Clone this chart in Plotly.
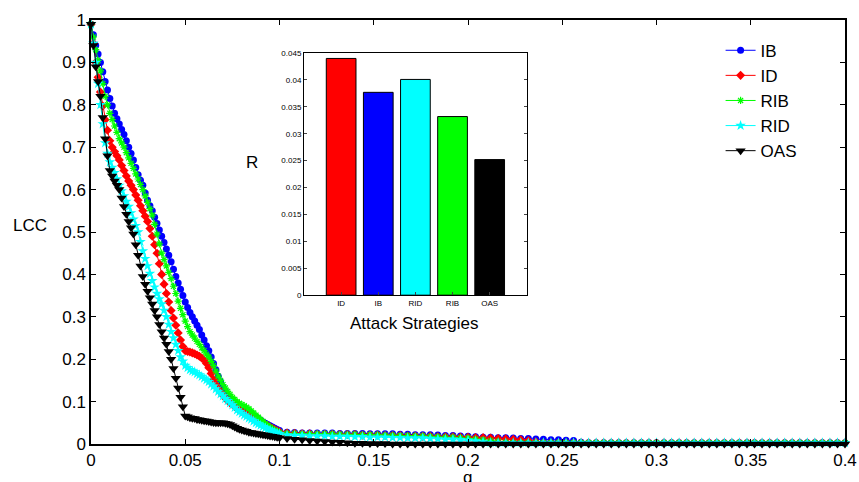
import plotly.graph_objects as go

# ---------------- data ----------------
# sampling grid of the fraction of removed nodes q
q_steep = [round(i * 0.00125, 5) for i in range(81)]        # 0 .. 0.1
q_tail = [round(0.104 + i * 0.004, 4) for i in range(75)]    # 0.104 .. 0.4
q = q_steep + q_tail

ib_steep = [0.99, 0.965, 0.94, 0.92, 0.90, 0.878, 0.855, 0.835, 0.815, 0.797,
            0.78, 0.767, 0.755, 0.742, 0.73, 0.715, 0.70, 0.685, 0.67, 0.652,
            0.635, 0.622, 0.61, 0.592, 0.575, 0.562, 0.55, 0.535, 0.52, 0.505,
            0.49, 0.475, 0.46, 0.445, 0.43, 0.412, 0.395, 0.38, 0.365, 0.35,
            0.335, 0.322, 0.31, 0.30, 0.29, 0.28, 0.27, 0.257, 0.245, 0.232,
            0.22, 0.205, 0.19, 0.175, 0.16, 0.147, 0.135, 0.125, 0.115, 0.106,
            0.098, 0.091, 0.085, 0.081, 0.077, 0.074, 0.072, 0.070, 0.068, 0.066,
            0.063, 0.060, 0.056, 0.052, 0.049, 0.046, 0.043, 0.040, 0.037, 0.034,
            0.032]
ib_tail = [0.028, 0.027, 0.026, 0.026, 0.026, 0.026, 0.026, 0.025, 0.025, 0.025,
           0.025, 0.024, 0.024, 0.024, 0.024, 0.023, 0.023, 0.022, 0.022, 0.022,
           0.021, 0.020, 0.020, 0.019, 0.018, 0.017, 0.016, 0.016, 0.015, 0.015,
           0.014, 0.013, 0.013, 0.012, 0.011, 0.010, 0.010, 0.009, 0.008, 0.004,
           0.003, 0.003, 0.003, 0.003, 0.003, 0.003, 0.003, 0.003, 0.003, 0.003,
           0.003, 0.003, 0.003, 0.003, 0.003, 0.003, 0.003, 0.003, 0.003, 0.003,
           0.003, 0.003, 0.003, 0.003, 0.003, 0.003, 0.003, 0.003, 0.003, 0.003,
           0.003, 0.003, 0.003, 0.003, 0.003]

id_steep = [0.99, 0.945, 0.90, 0.865, 0.83, 0.797, 0.765, 0.74, 0.715, 0.70,
            0.69, 0.68, 0.67, 0.657, 0.645, 0.632, 0.62, 0.61, 0.60, 0.587,
            0.575, 0.562, 0.55, 0.537, 0.525, 0.508, 0.49, 0.47, 0.45, 0.425,
            0.40, 0.377, 0.355, 0.335, 0.315, 0.297, 0.28, 0.262, 0.245, 0.23,
            0.22, 0.218, 0.217, 0.215, 0.213, 0.21, 0.207, 0.203, 0.198, 0.19,
            0.18, 0.166, 0.152, 0.14, 0.13, 0.122, 0.115, 0.108, 0.102, 0.097,
            0.093, 0.089, 0.085, 0.081, 0.078, 0.075, 0.072, 0.069, 0.066, 0.063,
            0.060, 0.057, 0.053, 0.050, 0.046, 0.043, 0.040, 0.037, 0.034, 0.031,
            0.029]
id_tail = [0.026, 0.025, 0.024, 0.024, 0.023, 0.023, 0.023, 0.022, 0.022, 0.022,
           0.021, 0.021, 0.021, 0.020, 0.020, 0.020, 0.019, 0.019, 0.018, 0.018,
           0.017, 0.017, 0.017, 0.016, 0.016, 0.015, 0.015, 0.014, 0.013, 0.012,
           0.011, 0.010, 0.008, 0.005, 0.003, 0.003, 0.003, 0.003, 0.003, 0.003,
           0.003, 0.003, 0.003, 0.003, 0.003, 0.003, 0.003, 0.003, 0.003, 0.003,
           0.003, 0.003, 0.003, 0.003, 0.003, 0.003, 0.003, 0.003, 0.003, 0.003,
           0.003, 0.003, 0.003, 0.003, 0.003, 0.003, 0.003, 0.003, 0.003, 0.003,
           0.003, 0.003, 0.003, 0.003, 0.003]

rib_steep = [0.99, 0.96, 0.93, 0.905, 0.88, 0.85, 0.82, 0.80, 0.78, 0.765,
             0.75, 0.735, 0.72, 0.71, 0.70, 0.687, 0.675, 0.662, 0.65, 0.637,
             0.625, 0.612, 0.60, 0.585, 0.57, 0.555, 0.54, 0.518, 0.495, 0.472,
             0.45, 0.435, 0.42, 0.405, 0.39, 0.372, 0.355, 0.337, 0.32, 0.305,
             0.29, 0.277, 0.265, 0.257, 0.25, 0.242, 0.235, 0.227, 0.22, 0.212,
             0.205, 0.195, 0.185, 0.172, 0.16, 0.15, 0.14, 0.132, 0.124, 0.117,
             0.11, 0.105, 0.10, 0.096, 0.093, 0.090, 0.087, 0.083, 0.078, 0.073,
             0.068, 0.063, 0.058, 0.053, 0.048, 0.044, 0.040, 0.036, 0.033, 0.030,
             0.028]
rib_tail = [0.025, 0.025, 0.024, 0.024, 0.024, 0.024, 0.024, 0.023, 0.023, 0.023,
            0.022, 0.022, 0.022, 0.021, 0.021, 0.020, 0.020, 0.019, 0.019, 0.018,
            0.017, 0.016, 0.016, 0.015, 0.014, 0.012, 0.010, 0.008, 0.006, 0.004,
            0.003, 0.003, 0.003, 0.003, 0.003, 0.003, 0.003, 0.003, 0.003, 0.003,
            0.003, 0.003, 0.003, 0.003, 0.003, 0.003, 0.003, 0.003, 0.003, 0.003,
            0.003, 0.003, 0.003, 0.003, 0.003, 0.003, 0.003, 0.003, 0.003, 0.003,
            0.003, 0.003, 0.003, 0.003, 0.003, 0.003, 0.003, 0.003, 0.003, 0.003,
            0.003, 0.003, 0.003, 0.003, 0.003]

rid_steep = [0.99, 0.945, 0.90, 0.85, 0.80, 0.755, 0.71, 0.685, 0.665, 0.652,
             0.64, 0.625, 0.61, 0.597, 0.585, 0.572, 0.56, 0.545, 0.53, 0.515,
             0.50, 0.477, 0.455, 0.437, 0.42, 0.402, 0.385, 0.37, 0.355, 0.342,
             0.33, 0.315, 0.30, 0.282, 0.265, 0.25, 0.235, 0.22, 0.205, 0.195,
             0.185, 0.18, 0.175, 0.172, 0.17, 0.166, 0.163, 0.159, 0.155, 0.151,
             0.147, 0.141, 0.136, 0.13, 0.124, 0.118, 0.113, 0.107, 0.102, 0.097,
             0.092, 0.086, 0.080, 0.076, 0.072, 0.068, 0.065, 0.061, 0.058, 0.054,
             0.050, 0.047, 0.044, 0.041, 0.038, 0.035, 0.033, 0.030, 0.028, 0.026,
             0.024]
rid_tail = [0.021, 0.020, 0.020, 0.019, 0.019, 0.019, 0.018, 0.018, 0.018, 0.017,
            0.017, 0.016, 0.016, 0.016, 0.015, 0.015, 0.014, 0.014, 0.014, 0.013,
            0.012, 0.011, 0.011, 0.010, 0.009, 0.007, 0.005, 0.003, 0.003, 0.003,
            0.003, 0.003, 0.003, 0.003, 0.003, 0.003, 0.003, 0.003, 0.003, 0.003,
            0.003, 0.003, 0.003, 0.003, 0.003, 0.003, 0.003, 0.003, 0.003, 0.003,
            0.003, 0.003, 0.003, 0.003, 0.003, 0.003, 0.003, 0.003, 0.003, 0.003,
            0.003, 0.003, 0.003, 0.003, 0.003, 0.003, 0.003, 0.003, 0.003, 0.003,
            0.003, 0.003, 0.003, 0.003, 0.003]

oas_steep = [0.99, 0.94, 0.89, 0.855, 0.82, 0.77, 0.72, 0.68, 0.645, 0.632,
             0.62, 0.61, 0.60, 0.58, 0.56, 0.542, 0.525, 0.51, 0.495, 0.47,
             0.445, 0.42, 0.395, 0.377, 0.36, 0.345, 0.33, 0.315, 0.30, 0.282,
             0.265, 0.25, 0.235, 0.218, 0.20, 0.178, 0.155, 0.132, 0.11, 0.088,
             0.066, 0.064, 0.062, 0.061, 0.060, 0.058, 0.057, 0.056, 0.055, 0.054,
             0.053, 0.052, 0.051, 0.050, 0.050, 0.050, 0.050, 0.049, 0.048, 0.046,
             0.043, 0.040, 0.037, 0.035, 0.033, 0.031, 0.030, 0.028, 0.027, 0.026,
             0.025, 0.024, 0.023, 0.022, 0.021, 0.020, 0.019, 0.018, 0.017, 0.016,
             0.015]
oas_tail = [0.013, 0.011, 0.010, 0.008, 0.007, 0.006, 0.005, 0.004, 0.003, 0.002,
            0.002, 0.001, 0.001, 0.001, 0.0, 0.0, 0.0, 0.0, 0.0, 0.0,
            0.0, 0.0, 0.0, 0.0, 0.0, 0.0, 0.0, 0.0, 0.0, 0.0,
            0.0, 0.0, 0.0, 0.0, 0.0, 0.0, 0.0, 0.0, 0.0, 0.0,
            0.0, 0.0, 0.0, 0.0, 0.0, 0.0, 0.0, 0.0, 0.0, 0.0,
            0.0, 0.0, 0.0, 0.0, 0.0, 0.0, 0.0, 0.0, 0.0, 0.0,
            0.0, 0.0, 0.0, 0.0, 0.0, 0.0, 0.0, 0.0, 0.0, 0.0,
            0.0, 0.0, 0.0, 0.0, 0.0]

IB = ib_steep + ib_tail
ID = id_steep + id_tail
RIB = rib_steep + rib_tail
RID = rid_steep + rid_tail
OAS = oas_steep + oas_tail
for s in (IB, ID, RIB, RID, OAS):
    assert len(s) == len(q), (len(s), len(q))

bar_labels = ["ID", "IB", "RID", "RIB", "OAS"]
bar_values = [0.0440, 0.0377, 0.0401, 0.0332, 0.0252]
bar_colors = ["#ff0000", "#0000ff", "#00ffff", "#00ff00", "#000000"]

# ---------------- figure ----------------
FONT = "Liberation Sans, Arial, sans-serif"
fig = go.Figure()

series = [
    ("IB", IB, "#0000ff", "circle", 7),
    ("ID", ID, "#ff0000", "diamond", 7),
    ("RIB", RIB, "#00ff00", "asterisk-open", 6),
    ("RID", RID, "#00ffff", "star", 8),
    ("OAS", OAS, "#000000", "triangle-down", 9),
]
for name, ys, col, sym, sz in series:
    marker = dict(symbol=sym, size=sz, color=col, line=dict(width=0))
    if sym == "asterisk-open":
        marker["line"] = dict(width=1.2, color=col)
    fig.add_trace(go.Scatter(
        x=q, y=ys, name=name, mode="lines+markers",
        line=dict(color=col, width=1), marker=marker,
        cliponaxis=False, xaxis="x", yaxis="y"))

fig.add_trace(go.Bar(
    x=bar_labels, y=bar_values,
    marker=dict(color=bar_colors, line=dict(color="black", width=1)),
    width=0.8, showlegend=False, xaxis="x2", yaxis="y2"))

axis_common = dict(showline=True, linecolor="black", linewidth=1.5, mirror="ticks",
                   ticks="inside", tickcolor="black", showgrid=False, zeroline=False,
                   automargin=False)

fig.update_layout(
    width=859, height=482, autosize=False,
    margin=dict(l=91, r=14, t=20, b=38, autoexpand=False),
    paper_bgcolor="white", plot_bgcolor="white",
    font=dict(family=FONT, color="black", size=17),
    xaxis=dict(range=[0, 0.4], dtick=0.05, tick0=0, ticklen=5,
               tickfont=dict(size=17), domain=[0, 1], **axis_common),
    yaxis=dict(range=[0, 1], dtick=0.1, tick0=0, ticklen=5,
               tickfont=dict(size=17), domain=[0, 1], **axis_common),
    xaxis2=dict(domain=[0.2825, 0.578], anchor="y2", type="category",
                range=[-1, 5], ticklen=3, tickfont=dict(size=8),
                showline=True, linecolor="black", linewidth=1, mirror=True,
                ticks="inside", showgrid=False, zeroline=False, automargin=False),
    yaxis2=dict(domain=[0.351, 0.922], anchor="x2", range=[0, 0.045],
                dtick=0.005, tick0=0, ticklen=3, tickfont=dict(size=8),
                showline=True, linecolor="black", linewidth=1, mirror="ticks",
                ticks="inside", showgrid=False, zeroline=False, automargin=False),
    legend=dict(x=0.835, y=0.97, xanchor="left", yanchor="top",
                bgcolor="rgba(0,0,0,0)", borderwidth=0,
                font=dict(size=17), tracegroupgap=0, itemwidth=30),
    showlegend=True,
    annotations=[
        dict(text="LCC", x=-0.0809, y=0.5165, xref="paper", yref="paper",
             showarrow=False, font=dict(size=17), xanchor="center", yanchor="middle"),
        dict(text="q", x=0.499, y=-0.053, xref="paper", yref="paper",
             showarrow=False, font=dict(size=17), xanchor="center", yanchor="top"),
        dict(text="R", x=0.2135, y=0.665, xref="paper", yref="paper",
             showarrow=False, font=dict(size=17), xanchor="center", yanchor="middle"),
        dict(text="Attack Strategies", x=0.4297, y=0.285, xref="paper", yref="paper",
             showarrow=False, font=dict(size=17), xanchor="center", yanchor="middle"),
    ],
)

fig.write_html("out.html",
               config=dict(displayModeBar=False, responsive=False),
               post_script="document.body.style.margin='0';document.body.style.overflow='hidden';")
